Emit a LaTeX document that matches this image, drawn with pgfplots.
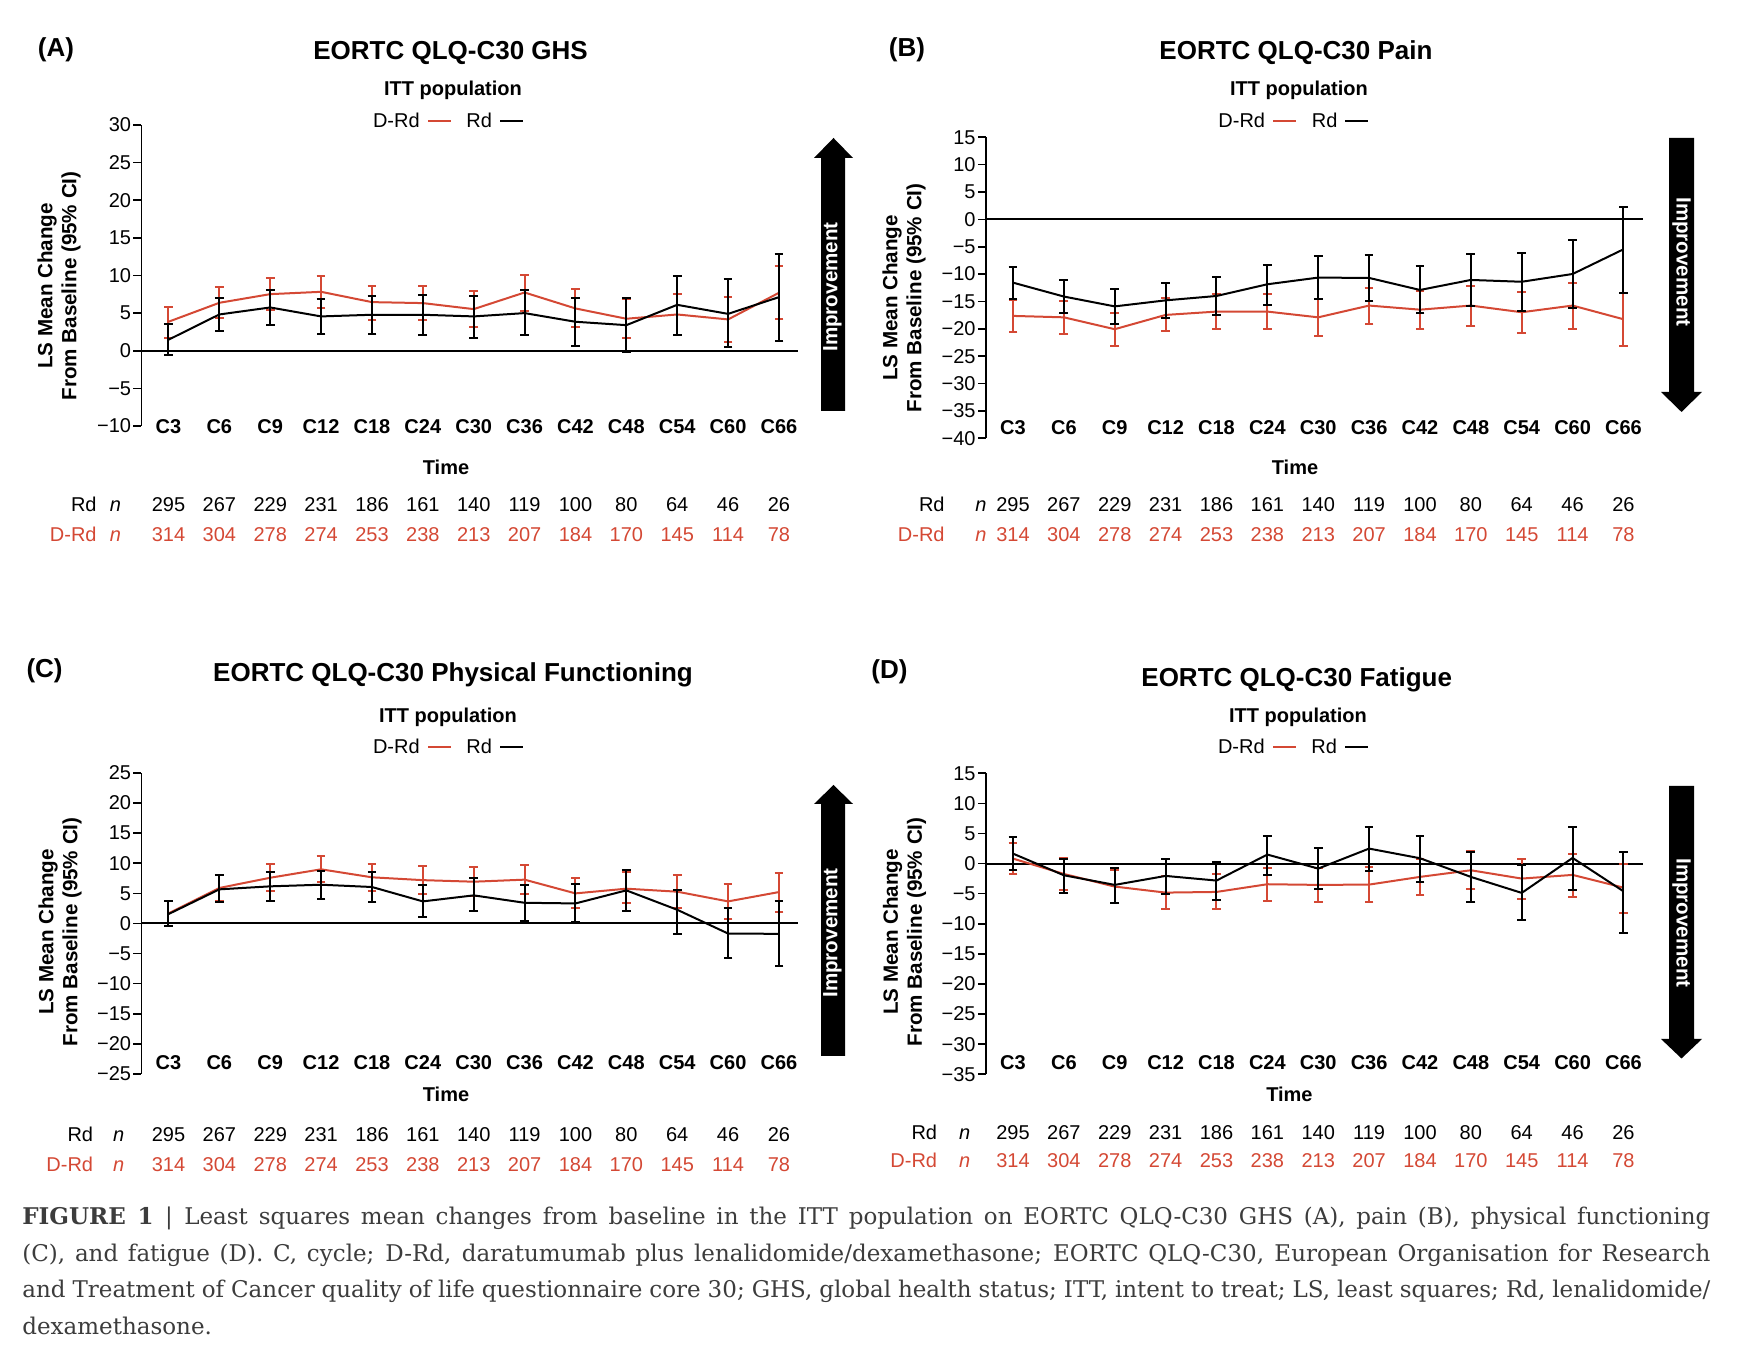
\documentclass[border=0pt]{standalone}
\usepackage{pgfplots}
\pgfplotsset{compat=1.18}
\usepackage{pgfplotstable}
\usepackage{fontspec}
\setmainfont{Liberation Sans}
\newfontfamily\capfont{DejaVu Serif}
\definecolor{drd}{RGB}{212,72,52}
\definecolor{capgray}{RGB}{60,60,60}

% columns: cycle index, LS mean, lower CI, upper CI
\pgfplotstableread{
x y lo hi
0 3.85 1.73 5.80
1 6.37 4.38 8.45
2 7.52 5.35 9.69
3 7.83 5.62 9.90
4 6.46 4.10 8.58
5 6.33 4.10 8.58
6 5.53 3.10 7.96
7 7.74 5.27 10.13
8 5.62 3.14 8.14
9 4.25 1.64 6.86
10 4.82 2.08 7.52
11 4.16 1.15 7.08
12 7.70 4.25 11.24
}\ghsDRd
\pgfplotstableread{
x y lo hi
0 1.46 -0.58 3.50
1 4.82 2.60 7.00
2 5.75 3.40 8.05
3 4.56 2.20 6.86
4 4.78 2.20 7.26
5 4.78 2.12 7.43
6 4.56 1.73 7.26
7 5.00 2.04 8.05
8 3.85 0.66 7.00
9 3.40 -0.13 6.95
10 6.10 2.12 9.90
11 4.90 0.44 9.47
12 7.12 1.33 12.88
}\ghsRd
\pgfplotstableread{
x y lo hi
0 -17.64 -20.50 -14.70
1 -17.90 -20.86 -15.00
2 -20.07 -23.20 -17.15
3 -17.46 -20.40 -14.30
4 -16.85 -19.95 -13.70
5 -16.85 -20.07 -13.70
6 -17.90 -21.30 -14.60
7 -15.75 -19.16 -12.60
8 -16.50 -19.95 -13.10
9 -15.75 -19.40 -12.17
10 -16.97 -20.74 -13.20
11 -15.75 -19.95 -11.68
12 -18.25 -23.05 -13.40
}\painDRd
\pgfplotstableread{
x y lo hi
0 -11.56 -14.60 -8.64
1 -14.10 -17.20 -11.07
2 -15.90 -19.16 -12.65
3 -14.80 -17.94 -11.56
4 -14.00 -17.50 -10.52
5 -11.86 -15.60 -8.27
6 -10.64 -14.60 -6.75
7 -10.70 -14.84 -6.57
8 -12.90 -17.20 -8.52
9 -11.07 -15.75 -6.27
10 -11.40 -16.70 -6.20
11 -9.98 -16.20 -3.83
12 -5.47 -13.40 2.30
}\painRd
\pgfplotstableread{
x y lo hi
0 1.67 -0.40 3.75
1 5.90 3.78 8.00
2 7.60 5.39 9.83
3 9.00 6.83 11.28
4 7.67 5.44 9.94
5 7.20 4.94 9.50
6 6.94 4.50 9.33
7 7.28 4.94 9.72
8 5.00 2.56 7.50
9 5.78 3.39 8.50
10 5.28 2.56 8.00
11 3.67 0.72 6.56
12 5.22 1.94 8.44
}\pfDRd
\pgfplotstableread{
x y lo hi
0 1.56 -0.50 3.78
1 5.67 3.50 8.10
2 6.17 3.78 8.50
3 6.44 4.10 8.72
4 6.06 3.50 8.50
5 3.67 1.06 6.39
6 4.67 2.00 7.50
7 3.44 0.44 6.39
8 3.33 0.28 6.50
9 5.50 2.11 8.83
10 2.28 -1.78 5.50
11 -1.67 -5.78 2.56
12 -1.72 -7.00 3.67
}\pfRd
\pgfplotstableread{
x y lo hi
0 0.83 -1.72 3.49
1 -1.72 -4.32 0.94
2 -3.82 -6.50 -1.05
3 -4.82 -7.59 -2.05
4 -4.71 -7.48 -1.77
5 -3.43 -6.26 -0.66
6 -3.54 -6.42 -0.80
7 -3.49 -6.42 -0.55
8 -2.21 -5.26 0.84
9 -1.11 -4.21 2.05
10 -2.49 -5.87 0.72
11 -1.88 -5.59 1.66
12 -3.99 -8.25 0.00
}\faDRd
\pgfplotstableread{
x y lo hi
0 1.66 -1.00 4.37
1 -1.94 -4.82 0.78
2 -3.54 -6.48 -0.78
3 -2.05 -5.04 0.78
4 -2.82 -5.98 0.28
5 1.50 -1.83 4.65
6 -0.83 -4.26 2.55
7 2.49 -1.16 6.04
8 0.89 -3.05 4.65
9 -2.21 -6.42 1.94
10 -4.87 -9.41 -0.22
11 0.94 -4.32 6.15
12 -4.60 -11.46 1.94
}\faRd

\pgfplotsset{
  qol/.style={
    scale only axis, width=328.4pt, height=150.5pt,
    xmin=-0.53, xmax=12.38, clip=false,
    axis y line*=left, axis x line*=bottom,
    x axis line style={draw=none},
    y axis line style={line width=0.9pt},
    xtick={0,...,12},
    xticklabels={C3,C6,C9,C12,C18,C24,C30,C36,C42,C48,C54,C60,C66},
    xtick style={draw=none},
    ytick style={line width=0.8pt, black},
    tick align=outside, major tick length=4pt,
    xticklabel style={font=\bfseries\fontsize{10}{12}\selectfont, anchor=center},
    yticklabel style={font=\fontsize{10}{12}\selectfont, inner sep=1pt},
  },
  ci/.style={line width=1pt, no marks, #1,
    error bars/y dir=both, error bars/y explicit,
    error bars/error bar style={line width=1pt, #1},
    error bars/error mark options={rotate=90, mark size=2.2pt, line width=1pt, #1}},
}
\newcommand\zeroline{\addplot[black, line width=1pt] coordinates {(-0.53,0) (12.38,0)};}

\begin{document}
\begin{tikzpicture}
\useasboundingbox (0,0) rectangle (871pt,679pt);

% (A) GHS
\begin{axis}[qol, at={(70.75pt,466pt)}, anchor=south west,
  ymin=-10, ymax=30, ytick={-10,-5,...,30},
  yticklabels={−10,−5,0,5,10,15,20,25,30},
  xticklabel style={yshift=3.5pt}]
\zeroline
\addplot[ci=drd] table[x=x, y=y, y error plus expr=\thisrow{hi}-\thisrow{y}, y error minus expr=\thisrow{y}-\thisrow{lo}] {\ghsDRd};
\addplot[ci=black] table[x=x, y=y, y error plus expr=\thisrow{hi}-\thisrow{y}, y error minus expr=\thisrow{y}-\thisrow{lo}] {\ghsRd};
\end{axis}

% (B) Pain
\begin{axis}[qol, at={(493pt,459.85pt)}, anchor=south west,
  ymin=-40, ymax=15, ytick={-40,-35,...,15},
  yticklabels={−40,−35,−30,−25,−20,−15,−10,−5,0,5,10,15},
  xticklabel style={yshift=9.4pt}]
\zeroline
\addplot[ci=drd] table[x=x, y=y, y error plus expr=\thisrow{hi}-\thisrow{y}, y error minus expr=\thisrow{y}-\thisrow{lo}] {\painDRd};
\addplot[ci=black] table[x=x, y=y, y error plus expr=\thisrow{hi}-\thisrow{y}, y error minus expr=\thisrow{y}-\thisrow{lo}] {\painRd};
\end{axis}

% (C) Physical functioning
\begin{axis}[qol, at={(70.75pt,142pt)}, anchor=south west,
  ymin=-25, ymax=25, ytick={-25,-20,...,25},
  yticklabels={−25,−20,−15,−10,−5,0,5,10,15,20,25},
  xticklabel style={yshift=9.7pt}]
\zeroline
\addplot[ci=drd] table[x=x, y=y, y error plus expr=\thisrow{hi}-\thisrow{y}, y error minus expr=\thisrow{y}-\thisrow{lo}] {\pfDRd};
\addplot[ci=black] table[x=x, y=y, y error plus expr=\thisrow{hi}-\thisrow{y}, y error minus expr=\thisrow{y}-\thisrow{lo}] {\pfRd};
\end{axis}

% (D) Fatigue
\begin{axis}[qol, at={(493pt,141.85pt)}, anchor=south west,
  ymin=-35, ymax=15, ytick={-35,-30,...,15},
  yticklabels={−35,−30,−25,−20,−15,−10,−5,0,5,10,15},
  xticklabel style={yshift=9.8pt}]
\zeroline
\addplot[ci=drd] table[x=x, y=y, y error plus expr=\thisrow{hi}-\thisrow{y}, y error minus expr=\thisrow{y}-\thisrow{lo}] {\faDRd};
\addplot[ci=black] table[x=x, y=y, y error plus expr=\thisrow{hi}-\thisrow{y}, y error minus expr=\thisrow{y}-\thisrow{lo}] {\faRd};
\end{axis}

% text and decorations, in pixel coordinates of the reference
\begin{scope}[x=0.5pt, y=-0.5pt, shift={(0,679pt)}]
  \tikzset{
    lbl/.style={font=\bfseries\fontsize{13}{15}\selectfont, inner sep=0},
    ttl/.style={font=\bfseries\fontsize{13}{15}\selectfont, anchor=base, inner sep=0},
    sub/.style={font=\bfseries\fontsize{10}{12}\selectfont, anchor=base, inner sep=0},
    txt/.style={font=\fontsize{10}{12}\selectfont, anchor=base, inner sep=0},
    ylab/.style={font=\bfseries\fontsize{10.3}{12}\selectfont, rotate=90, align=center, inner sep=0},
    imp/.style={font=\bfseries\fontsize{10.3}{12}\selectfont, text=white, inner sep=0},
  }
  \node[lbl] at (56,50) {(A)};
  \node[lbl] at (907,50) {(B)};
  \node[lbl] at (44.6,671) {(C)};
  \node[lbl] at (889.5,671.4) {(D)};

  \node[ttl] at (450.6,59.6) {EORTC QLQ-C30 GHS};
  \node[ttl] at (1296,59.6) {EORTC QLQ-C30 Pain};
  \node[ttl] at (453,681.8) {EORTC QLQ-C30 Physical Functioning};
  \node[ttl] at (1296.7,686.6) {EORTC QLQ-C30 Fatigue};

  \foreach \px/\py in {453/95.4, 1299/95.4, 448/722.5, 1298/722.5}
    \node[sub] at (\px,\py) {ITT population};

  % legend text
  \foreach \dx/\py in {0/127.7, 845.4/127.7, 0/754, 845/754} {
    \node[txt, anchor=base west] at (372.6+\dx,\py) {D-Rd};
    \draw[drd, line width=1pt] (428+\dx,\py-7) -- (451+\dx,\py-7);
    \node[txt, anchor=base west] at (466+\dx,\py) {Rd};
    \draw[black, line width=1pt] (500+\dx,\py-7) -- (523+\dx,\py-7);
  }

  \node[ylab] at (59,286) {LS Mean Change\\From Baseline (95\% CI)};
  \node[ylab] at (904,298) {LS Mean Change\\From Baseline (95\% CI)};
  \node[ylab] at (60,932) {LS Mean Change\\From Baseline (95\% CI)};
  \node[ylab] at (904.5,932) {LS Mean Change\\From Baseline (95\% CI)};

  \node[sub] at (446,475) {Time};
  \node[sub] at (1295,475) {Time};
  \node[sub] at (446,1101.5) {Time};
  \node[sub] at (1289.4,1101.5) {Time};

  % improvement arrows
  \fill[black] (821,411) -- (821,158) -- (814,158) -- (833.5,138) -- (853,158) -- (845,158) -- (845,411) -- cycle;
  \node[imp, rotate=90] at (832.5,287) {Improvement};
  \fill[black] (821,1056) -- (821,804) -- (814,804) -- (833.5,785) -- (853,804) -- (845,804) -- (845,1056) -- cycle;
  \node[imp, rotate=90] at (832.5,933) {Improvement};
  \fill[black] (1669,138) -- (1669,392) -- (1661,392) -- (1681.5,412) -- (1702,392) -- (1694,392) -- (1694,138) -- cycle;
  \node[imp, rotate=-90] at (1681.5,262) {Improvement};
  \fill[black] (1669,786) -- (1669,1039) -- (1661,1039) -- (1681.5,1058.5) -- (1702,1039) -- (1694,1039) -- (1694,786) -- cycle;
  \node[imp, rotate=-90] at (1681.5,923) {Improvement};

  % numbers at risk
  \foreach \xl/\xn/\xz/\ya/\yb in {97/115.5/168.5/511.5/541.5, 945/981/1013/511.5/541.5,
                                 93.5/118.8/168.5/1142/1171.5, 937.5/964.8/1013/1140/1167.5} {
    \node[txt, anchor=base east] at (\xl,\ya) {Rd};
    \node[txt] at (\xn,\ya) {\itshape n};
    \node[txt, anchor=base east, text=drd] at (\xl,\yb) {D-Rd};
    \node[txt, text=drd] at (\xn,\yb) {\itshape n};
    \foreach \v [count=\i from 0] in {295,267,229,231,186,161,140,119,100,80,64,46,26}
      \node[txt] at (\xz+50.87*\i,\ya) {\v};
    \foreach \v [count=\i from 0] in {314,304,278,274,253,238,213,207,184,170,145,114,78}
      \node[txt, text=drd] at (\xz+50.87*\i,\yb) {\v};
  }

  % caption
  \node[anchor=north west, inner sep=0, text width=844pt, align=justify, text=capgray,
        font=\capfont\fontsize{11.5}{18.2}\selectfont] at (22,1207) {%
    {\bfseries FIGURE 1}\enspace|\enspace Least squares mean changes from baseline in the ITT population on EORTC QLQ-C30 GHS (A), pain (B), physical functioning\linebreak
    (C), and fatigue (D). C, cycle; D-Rd, daratumumab plus lenalidomide/dexamethasone; EORTC QLQ-C30, European Organisation for Research\linebreak
    and Treatment of Cancer quality of life questionnaire core 30; GHS, global health status; ITT, intent to treat; LS, least squares; Rd, lenalidomide/\linebreak
    dexamethasone.};
\end{scope}
\end{tikzpicture}
\end{document}
